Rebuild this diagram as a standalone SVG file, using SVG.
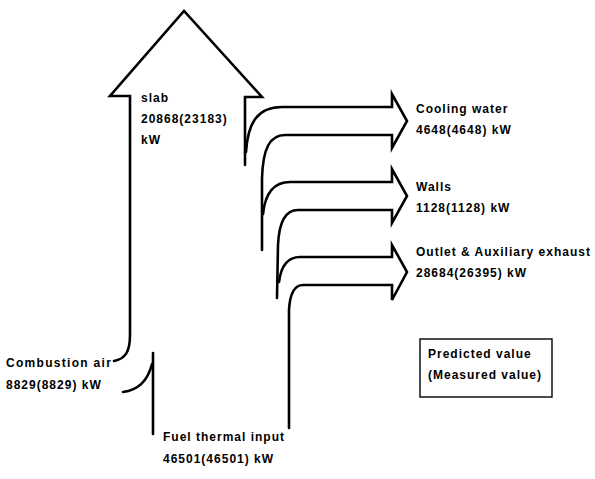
<svg xmlns="http://www.w3.org/2000/svg" width="595" height="479" viewBox="0 0 595 479">
<style>
.ln{fill:none;stroke:#000;stroke-width:2.6;stroke-linejoin:miter;stroke-linecap:round}
.t{font-family:"Liberation Sans",Arial,sans-serif;font-weight:bold;font-size:12px;fill:#000;letter-spacing:1px}
.box{fill:none;stroke:#000;stroke-width:1.4}
</style>
<rect width="595" height="479" fill="#fff"/>
<g id="connectors">
<path class="ln" d="M114,361 C125,359 130,352 130,335 L130,96 L110,96 L184,11 L262,97 L245,97 L245,165"/>
<path class="ln" d="M246,152 C248,122 258,107 282,107 L392,107 L392,94 L407,121 L392,148 L392,135 L285,135 C270,135 263,148 262,178 L262,250"/>
<path class="ln" d="M263,214 C265,195 272,182 290,182 L392,182 L392,169 L407,196 L392,223 L392,210 L298,210 C286,210 279,222 278,245 L277,298"/>
<path class="ln" d="M279,282 C281,266 288,257 300,257 L392,257 L392,245 L407,272 L392,300 L392,285 L303,285 C295,285 290,292 289,310 L289,428"/>
<path class="ln" d="M153,353 L153,434"/>
<path class="ln" d="M152,364 C148,380 139,390 123,392"/>
</g>
<g id="slab">
<text class="t" x="141" y="102">slab</text>
<text class="t" x="141" y="123">20868(23183)</text>
<text class="t" x="141" y="144">kW</text>
</g>
<g id="cooling-water">
<text class="t" x="416" y="113">Cooling water</text>
<text class="t" x="416" y="134">4648(4648) kW</text>
</g>
<g id="walls">
<text class="t" x="416" y="191">Walls</text>
<text class="t" x="416" y="212">1128(1128) kW</text>
</g>
<g id="outlet">
<text class="t" x="416" y="256">Outlet &amp; Auxiliary exhaust</text>
<text class="t" x="416" y="277">28684(26395) kW</text>
</g>
<g id="combustion-air">
<text class="t" x="6" y="367" style="letter-spacing:1.3px">Combustion air</text>
<text class="t" x="6" y="389">8829(8829) kW</text>
</g>
<g id="fuel">
<text class="t" x="163" y="441">Fuel thermal input</text>
<text class="t" x="163" y="463">46501(46501) kW</text>
</g>
<g id="legend">
<rect class="box" x="420" y="339" width="132" height="58"/>
<text class="t" x="428" y="358">Predicted value</text>
<text class="t" x="428" y="379">(Measured value)</text>
</g>
</svg>
